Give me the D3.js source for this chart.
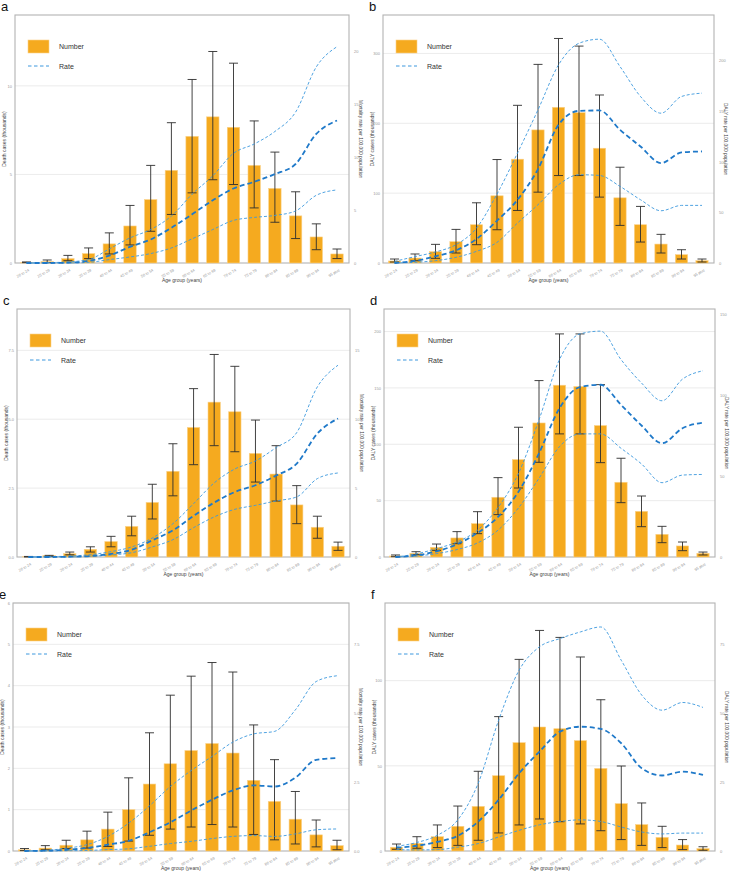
<!DOCTYPE html>
<html>
<head>
<meta charset="utf-8">
<script src="https://cdn.jsdelivr.net/npm/d3@7"></script>
<style>
body { margin: 0; background: #fff; }
svg { display: block; font-family: "Liberation Sans", Arial, sans-serif; }
</style>
</head>
<body>
<div id="chart"></div>
<script>
// age groups on the x axis
var ageGroups = ["20 to 24", "25 to 29", "30 to 34", "35 to 39", "40 to 44", "45 to 49",
  "50 to 54", "55 to 59", "60 to 64", "65 to 69", "70 to 74", "75 to 79",
  "80 to 84", "85 to 89", "90 to 94", "95 plus"]

// panel a - deaths
var aNum   = [0.04, 0.08, 0.25, 0.53, 1.08, 2.09, 3.58, 5.23, 7.15, 8.25, 7.66, 5.51, 4.21, 2.66, 1.47, 0.51]
var aNumUp = [0.06, 0.17, 0.43, 0.85, 1.70, 3.25, 5.51, 7.92, 10.36, 11.94, 11.28, 8.02, 6.26, 4.02, 2.21, 0.79]
var aNumLo = [0.02, 0.02, 0.13, 0.25, 0.51, 1.02, 1.79, 2.74, 3.96, 4.70, 4.43, 3.11, 2.30, 1.38, 0.75, 0.25]
var aRate   = [0, 0, 0.03, 0.19, 0.70, 1.52, 2.22, 3.32, 4.59, 5.92, 7.03, 7.66, 8.39, 9.34, 12.18, 13.45]
var aRateUp = [0, 0.03, 0.10, 0.32, 1.33, 2.37, 3.16, 4.43, 6.49, 8.23, 10.35, 11.23, 12.41, 14.24, 18.5, 20.41]
var aRateLo = [0, 0, 0, 0.06, 0.32, 0.57, 0.89, 1.42, 2.28, 3.16, 4.02, 4.30, 4.49, 4.91, 6.39, 6.90]

// panel b - DALYs
var bNum   = [2.9, 7.1, 16.2, 30.5, 54.8, 96.2, 148.6, 190.5, 222.9, 215.2, 164.3, 93.3, 54.8, 27.1, 11.9, 3.3]
var bNumUp = [5.7, 12.9, 26.7, 48.1, 86.2, 148.1, 225.7, 284.3, 321.4, 310.5, 240.5, 137.1, 81, 41, 19, 5.7]
var bNumLo = [1.4, 3.3, 6.7, 14.3, 26.2, 47.6, 75.2, 101.4, 125.2, 125.2, 94.3, 53.8, 30, 14.3, 5.7, 1.4]
var bRate   = [0, 2, 6.6, 12.5, 23.7, 41.8, 62.5, 92.8, 136.5, 150.3, 150.7, 131.6, 115.1, 98.7, 109.2, 110.2]
var bRateUp = [1.6, 6.3, 10.9, 18.1, 34.5, 68.1, 108.6, 151.3, 195.7, 217.1, 221.1, 194.1, 164.5, 148, 164.5, 167.8]
var bRateLo = [0, 0.7, 2.3, 5.6, 11.5, 20.4, 39.5, 57.6, 77.3, 87.2, 86.5, 75.7, 62.5, 51.6, 56.9, 56.9]

// panel c - deaths
var cNum   = [0.01, 0.05, 0.12, 0.28, 0.56, 1.11, 1.98, 3.11, 4.70, 5.62, 5.27, 3.76, 3.01, 1.89, 1.08, 0.39]
var cNumUp = [0.02, 0.06, 0.18, 0.37, 0.75, 1.48, 2.64, 4.11, 6.11, 7.35, 6.92, 4.97, 4.04, 2.59, 1.48, 0.54]
var cNumLo = [0, 0.02, 0.08, 0.18, 0.37, 0.77, 1.38, 2.22, 3.35, 4.04, 3.82, 2.72, 2.03, 1.21, 0.68, 0.24]
var cRate   = [0, 0, 0.02, 0.07, 0.22, 0.53, 1.21, 1.94, 2.98, 3.95, 4.72, 5.21, 5.91, 6.78, 8.96, 10.05]
var cRateUp = [0, 0.02, 0.07, 0.17, 0.39, 0.73, 1.38, 2.42, 3.87, 5.38, 6.39, 6.97, 7.94, 9.03, 12.35, 13.92]
var cRateLo = [0, 0, 0, 0.05, 0.15, 0.31, 0.73, 1.26, 2.13, 2.91, 3.46, 3.75, 4.07, 4.36, 5.69, 6.10]

// panel d - DALYs
var dNum   = [0.9, 3.3, 8.6, 16.9, 29.6, 53, 86.4, 118.9, 152.4, 151.2, 116.6, 66.3, 40.5, 20.1, 9.8, 3.3]
var dNumUp = [1.8, 4.7, 11.5, 22.5, 40.2, 70.4, 115.1, 156.5, 197.9, 197.9, 152.9, 87.6, 54.1, 27.2, 13.3, 4.4]
var dNumLo = [0.3, 2.1, 5.9, 11.8, 20.7, 37.6, 61.2, 84, 109.2, 109.2, 83.7, 48.2, 26.9, 12.7, 5.6, 1.8]
var dRate   = [0, 1, 3.5, 7.9, 14.9, 24.8, 40.4, 64.2, 92.1, 105.2, 106.6, 94.2, 81.4, 70.4, 79.7, 83.2]
var dRateUp = [0, 1.9, 5.2, 9.3, 16.6, 30.6, 51.8, 84.9, 122.2, 138.1, 139.8, 122.2, 107.7, 96.7, 110.1, 115.3]
var dRateLo = [0, 0.6, 2.1, 4.6, 8.7, 16.6, 30.4, 48.7, 68.3, 76.2, 76.2, 67.3, 57.6, 46, 50.7, 51.1]

// panel e - deaths
var eNum   = [0.03, 0.07, 0.14, 0.27, 0.53, 1.0, 1.62, 2.11, 2.43, 2.6, 2.37, 1.71, 1.2, 0.77, 0.39, 0.13]
var eNumUp = [0.06, 0.13, 0.26, 0.48, 0.94, 1.77, 2.86, 3.77, 4.23, 4.56, 4.33, 3.05, 2.21, 1.44, 0.75, 0.26]
var eNumLo = [0.01, 0.03, 0.06, 0.07, 0.11, 0.24, 0.38, 0.53, 0.58, 0.64, 0.58, 0.40, 0.27, 0.17, 0.10, 0.03]
var eRate   = [0, 0.01, 0.04, 0.11, 0.23, 0.37, 0.68, 1.04, 1.47, 1.86, 2.2, 2.38, 2.34, 2.66, 3.31, 3.37]
var eRateUp = [0, 0.02, 0.10, 0.23, 0.53, 1.01, 1.64, 2.34, 2.92, 3.43, 3.95, 4.25, 4.34, 5.12, 6.15, 6.36]
var eRateLo = [0, 0, 0.01, 0.02, 0.05, 0.08, 0.17, 0.27, 0.35, 0.45, 0.53, 0.56, 0.53, 0.62, 0.77, 0.80]

// panel f - DALYs
var fNum   = [2.2, 4.5, 8.4, 14.5, 26.2, 44.2, 63.6, 72.8, 71.8, 64.8, 48.5, 27.8, 15.5, 8, 3.5, 1.4]
var fNumUp = [4.1, 8.4, 15.3, 26.4, 46.8, 78.9, 112.5, 129.5, 125.4, 113.9, 88.8, 49.9, 28.2, 14.5, 6.7, 2.5]
var fNumLo = [1, 1.6, 2, 3.3, 6.3, 10.6, 15.3, 18.8, 17.2, 15.9, 11.9, 6.7, 3.3, 2, 0.8, 0.4]
var fRate   = [1.2, 1.9, 3.3, 5.5, 10.7, 18.6, 28.2, 36.1, 43.3, 45.1, 44.3, 39.1, 30, 27.4, 28.8, 27.6]
var fRateUp = [1.7, 3.1, 5.7, 11.3, 24.6, 47.5, 65.6, 74.1, 77.1, 79.5, 81.3, 69.2, 56.6, 51.1, 53.9, 52.1]
var fRateLo = [0.5, 0.4, 0.5, 1.4, 2.7, 5.1, 7.5, 9.5, 10.7, 11.3, 10.7, 8.7, 6.9, 6.2, 6.5, 6.5]

// tick values
var aLeftTicks = [0, 5, 10], aRightTicks = [0, 5, 10, 15, 20]
var bLeftTicks = [0, 100, 200, 300], bRightTicks = [0, 50, 100, 150, 200]
var cLeftTicks = [0, 2.5, 5, 7.5], cRightTicks = [0, 5, 10, 15]
var dLeftTicks = [0, 50, 100, 150, 200], dRightTicks = [0, 50, 100, 150]
var eLeftTicks = [0, 1, 2, 3, 4, 5, 6], eRightTicks = [0, 2.5, 5, 7.5]
var fLeftTicks = [0, 50, 100], fRightTicks = [0, 25, 50, 75]

var deathTitle = "Death cases (thousands)"
var dalyTitle = "DALY cases (thousands)"
var mortTitle = "Mortality rate per 100,000 population"
var dalyRateTitle = "DALY rate per 100,000 population"

var W = 730, H = 872
var barColor = "#f5aa1f"
var rateColor = "#1f79c9"
var rateLight = "#3c98de"

var panels = [
  {id: "a", x0: 15, x1: 349, y0: 15, y1: 263, num: aNum, up: aNumUp, lo: aNumLo, rate: aRate, rUp: aRateUp, rLo: aRateLo,
   lMax: 14, rMax: 23.4, lTicks: aLeftTicks, rTicks: aRightTicks, lFmt: "d", rFmt: "d", lTitle: deathTitle, rTitle: mortTitle},
  {id: "b", x0: 383, x1: 714, y0: 15, y1: 263, num: bNum, up: bNumUp, lo: bNumLo, rate: bRate, rUp: bRateUp, rLo: bRateLo,
   lMax: 355, rMax: 245, lTicks: bLeftTicks, rTicks: bRightTicks, lFmt: "d", rFmt: "d", lTitle: dalyTitle, rTitle: dalyRateTitle},
  {id: "c", x0: 17, x1: 350, y0: 309, y1: 557, num: cNum, up: cNumUp, lo: cNumLo, rate: cRate, rUp: cRateUp, rLo: cRateLo,
   lMax: 9, rMax: 18, lTicks: cLeftTicks, rTicks: cRightTicks, lFmt: ".1f", rFmt: "d", lTitle: deathTitle, rTitle: mortTitle},
  {id: "d", x0: 384, x1: 715, y0: 309, y1: 557, num: dNum, up: dNumUp, lo: dNumLo, rate: dRate, rUp: dRateUp, rLo: dRateLo,
   lMax: 220, rMax: 153.5, lTicks: dLeftTicks, rTicks: dRightTicks, lFmt: "d", rFmt: "d", lTitle: dalyTitle, rTitle: dalyRateTitle},
  {id: "e", x0: 13, x1: 349, y0: 603, y1: 851, num: eNum, up: eNumUp, lo: eNumLo, rate: eRate, rUp: eRateUp, rLo: eRateLo,
   lMax: 6, rMax: 9, lTicks: eLeftTicks, rTicks: eRightTicks, lFmt: "d", rFmt: ".1f", lTitle: deathTitle, rTitle: mortTitle},
  {id: "f", x0: 385, x1: 715, y0: 603, y1: 851, num: fNum, up: fNumUp, lo: fNumLo, rate: fRate, rUp: fRateUp, rLo: fRateLo,
   lMax: 145.6, rMax: 90, lTicks: fLeftTicks, rTicks: fRightTicks, lFmt: "d", rFmt: "d", lTitle: dalyTitle, rTitle: dalyRateTitle}
]

var svg = d3.select("#chart").append("svg")
  .attr("width", W)
  .attr("height", H)

panels.forEach(function(p) {
  var g = svg.append("g").attr("class", "panel-" + p.id)

  var x = d3.scalePoint().domain(ageGroups).range([p.x0 + 11.5, p.x1 - 12])
  var bw = x.step() * 0.6
  var yL = d3.scaleLinear().domain([0, p.lMax]).range([p.y1, p.y0])
  var yR = d3.scaleLinear().domain([0, p.rMax]).range([p.y1, p.y0])

  // panel letter
  g.append("text")
    .attr("x", p.x0 - 14)
    .attr("y", p.y0 - 4)
    .attr("font-size", 13)
    .attr("fill", "#111")
    .text(p.id)

  // gridlines from left axis
  g.selectAll(".grid").data(p.lTicks.filter(function(d) { return d > 0 }))
    .enter().append("line")
    .attr("x1", p.x0).attr("x2", p.x1)
    .attr("y1", function(d) { return yL(d) })
    .attr("y2", function(d) { return yL(d) })
    .attr("stroke", "#e6e6e6")
    .attr("stroke-width", 0.8)

  // frame
  g.append("rect")
    .attr("x", p.x0).attr("y", p.y0)
    .attr("width", p.x1 - p.x0).attr("height", p.y1 - p.y0)
    .attr("fill", "none")
    .attr("stroke", "#b3b3b3")
    .attr("stroke-width", 1.1)

  // left axis
  var la = g.append("g")
    .attr("transform", "translate(" + p.x0 + ",0)")
    .call(d3.axisLeft(yL).tickValues(p.lTicks).tickSize(0).tickPadding(3).tickFormat(d3.format(p.lFmt)))
  la.select(".domain").remove()
  la.selectAll("text").attr("font-size", 4).attr("fill", "#999").attr("font-family", null)

  // right axis
  var ra = g.append("g")
    .attr("transform", "translate(" + p.x1 + ",0)")
    .call(d3.axisRight(yR).tickValues(p.rTicks).tickSize(0).tickPadding(5).tickFormat(d3.format(p.rFmt)))
  ra.select(".domain").remove()
  ra.selectAll("text").attr("font-size", 4).attr("fill", "#999").attr("font-family", null)

  // x tick labels
  g.selectAll(".xlab").data(ageGroups)
    .enter().append("text")
    .attr("transform", function(d) { return "translate(" + (x(d) + 3) + "," + (p.y1 + 8) + ") rotate(-30)" })
    .attr("text-anchor", "end")
    .attr("font-size", 3.8)
    .attr("fill", "#999")
    .text(function(d) { return d })

  // axis titles
  g.append("text")
    .attr("x", (p.x0 + p.x1) / 2)
    .attr("y", p.y1 + 19)
    .attr("text-anchor", "middle")
    .attr("font-size", 5)
    .attr("fill", "#444")
    .text("Age group (years)")

  g.append("text")
    .attr("transform", "translate(" + (p.x0 - 9) + "," + ((p.y0 + p.y1) / 2) + ") rotate(-90)")
    .attr("text-anchor", "middle")
    .attr("font-size", 5)
    .attr("fill", "#444")
    .text(p.lTitle)

  g.append("text")
    .attr("transform", "translate(" + (p.x1 + 10) + "," + ((p.y0 + p.y1) / 2) + ") rotate(90)")
    .attr("text-anchor", "middle")
    .attr("font-size", 4.8)
    .attr("fill", "#444")
    .text(p.rTitle)

  // bars
  g.selectAll(".bar").data(p.num)
    .enter().append("rect")
    .attr("x", function(d, i) { return x(ageGroups[i]) - bw / 2 })
    .attr("y", function(d) { return yL(d) })
    .attr("width", bw)
    .attr("height", function(d) { return p.y1 - yL(d) })
    .attr("fill", barColor)
    .attr("stroke", "#fbd28a")
    .attr("stroke-width", 0.6)

  // error bars
  var cap = 4.5
  var eb = g.selectAll(".err").data(ageGroups).enter().append("g")
  eb.append("line")
    .attr("x1", function(d) { return x(d) }).attr("x2", function(d) { return x(d) })
    .attr("y1", function(d, i) { return yL(p.up[i]) })
    .attr("y2", function(d, i) { return yL(p.lo[i]) })
  eb.append("line")
    .attr("x1", function(d) { return x(d) - cap }).attr("x2", function(d) { return x(d) + cap })
    .attr("y1", function(d, i) { return yL(p.up[i]) })
    .attr("y2", function(d, i) { return yL(p.up[i]) })
  eb.append("line")
    .attr("x1", function(d) { return x(d) - cap }).attr("x2", function(d) { return x(d) + cap })
    .attr("y1", function(d, i) { return yL(p.lo[i]) })
    .attr("y2", function(d, i) { return yL(p.lo[i]) })
  eb.selectAll("line").attr("stroke", "#2e2e2e").attr("stroke-width", 0.9)

  // rate lines
  var line = d3.line()
    .x(function(d, i) { return x(ageGroups[i]) })
    .y(function(d) { return yR(d) })
    .curve(d3.curveMonotoneX)

  ;[p.rUp, p.rLo].forEach(function(arr) {
    g.append("path")
      .attr("d", line(arr))
      .attr("fill", "none")
      .attr("stroke", rateLight)
      .attr("stroke-width", 0.9)
      .attr("stroke-dasharray", "3,2")
  })
  g.append("path")
    .attr("d", line(p.rate))
    .attr("fill", "none")
    .attr("stroke", rateColor)
    .attr("stroke-width", 1.8)
    .attr("stroke-dasharray", "5,3")

  // legend
  var lx = p.x0 + 13, ly = p.y0 + 25
  g.append("rect")
    .attr("x", lx).attr("y", ly)
    .attr("width", 21).attr("height", 13)
    .attr("fill", barColor)
    .attr("stroke", "#fbd28a")
    .attr("stroke-width", 0.6)
  g.append("text")
    .attr("x", lx + 31).attr("y", ly + 9)
    .attr("font-size", 7)
    .attr("fill", "#333")
    .text("Number")
  g.append("line")
    .attr("x1", lx).attr("x2", lx + 21)
    .attr("y1", ly + 26).attr("y2", ly + 26)
    .attr("stroke", rateLight)
    .attr("stroke-width", 1)
    .attr("stroke-dasharray", "3.5,2.5")
  g.append("text")
    .attr("x", lx + 31).attr("y", ly + 28.5)
    .attr("font-size", 7)
    .attr("fill", "#333")
    .text("Rate")
})
</script>
</body>
</html>
